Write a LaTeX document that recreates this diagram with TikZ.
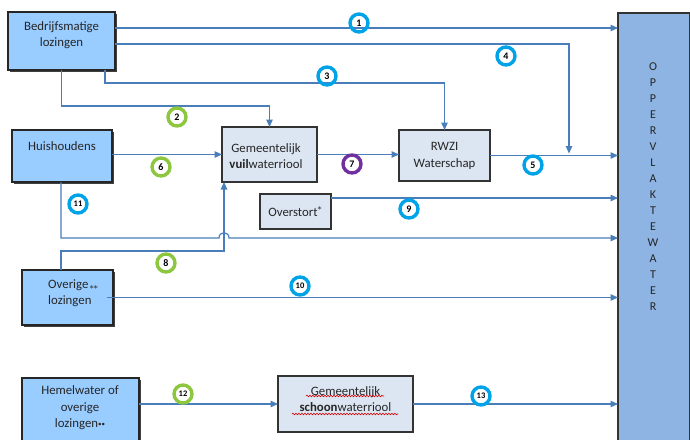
\documentclass[tikz,border=0pt]{standalone}
\usepackage{fontspec}
\setmainfont{Carlito}
\newfontfamily\starfont{DejaVu Sans}
\usetikzlibrary{arrows.meta,shadows,calc,decorations.pathmorphing}
\definecolor{flowc}{HTML}{4A7EBB}
\definecolor{srcfill}{HTML}{99CCFF}
\definecolor{procfill}{HTML}{DCE6F2}
\definecolor{oppfill}{HTML}{8DB4E2}
\definecolor{cblue}{HTML}{00A2E8}
\definecolor{cgreen}{HTML}{8DC63F}
\definecolor{cpurple}{HTML}{7030A0}
\begin{document}
\begin{tikzpicture}[x=1pt,y=-1pt,
  srcbox/.style={draw=black!85,line width=1.4pt,fill=srcfill,inner sep=0pt,outer sep=0pt,
    general shadow={fill=black!75,shadow xshift=1.6pt,shadow yshift=-1.6pt}},
  procbox/.style={draw=black!80,line width=1.2pt,fill=procfill,inner sep=0pt,outer sep=0pt,
    general shadow={fill=black!60,shadow xshift=1.2pt,shadow yshift=-1.2pt}},
  txt/.style={align=center,inner sep=0pt,font=\fontsize{12.8}{16.5}\selectfont,text=black!85},
  flow/.style={draw=flowc,line width=1.2pt,-{Triangle[length=7.5pt,width=6.5pt]}},
  numc/.style={circle,draw=#1,line width=3.4pt,minimum size=18pt,inner sep=0pt,
    font=\bfseries\fontsize{10}{10}\selectfont},
  numcs/.style={numc=#1,font=\bfseries\fontsize{8.5}{9}\selectfont},
  spell/.style={draw=red!85!black,line width=0.6pt,decorate,
    decoration={snake,amplitude=0.8pt,segment length=3pt}}]
\useasboundingbox (0,0) rectangle (690,439);

% boxes
\node[srcbox,minimum width=107pt,minimum height=58pt] (bed) at (61.5,41) {};
\node[txt] (bedt) at (61.5,35) {Bedrijfsmatige\\lozingen};
\node[srcbox,minimum width=100pt,minimum height=52pt] (hui) at (62,156) {};
\node[txt] (huit) at (62,146) {Huishoudens};
\node[procbox,minimum width=95pt,minimum height=55pt] (gem) at (269.5,154.5) {};
\node[txt] (gemt) at (266,156) {Gemeentelijk\\\textbf{vuil}waterriool};
\node[procbox,minimum width=71pt,minimum height=35pt] (ovs) at (295.5,211.5) {};
\node[txt] (ovst) at (295,212) {Overstort\raisebox{4pt}{\starfont\fontsize{8}{8}\selectfont *}};
\node[procbox,minimum width=91pt,minimum height=51pt] (rwzi) at (444.5,155.5) {};
\node[txt] (rwzit) at (444.5,156) {RWZI\\Waterschap};
\node[draw=black!80,line width=1.1pt,fill=oppfill,minimum width=72pt,minimum height=428pt,
  inner sep=0pt,outer sep=0pt] (opp) at (654,227) {};
\node[txt,font=\fontsize{12}{16}\selectfont] (oppt) at (653,187)
  {O\\P\\P\\E\\R\\V\\L\\A\\K\\T\\E\\W\\A\\T\\E\\R};
\node[srcbox,minimum width=91pt,minimum height=55pt] (ovl) at (67.5,297.5) {};
\node[txt,align=left] (ovlt) at (73,293) {Overige\raisebox{-3pt}{\starfont\fontsize{8}{8}\selectfont\,**}\\lozingen};
\node[srcbox,minimum width=117pt,minimum height=66pt] (hem) at (80.5,411) {};
\node[txt] (hemt) at (80,408) {Hemelwater of\\overige\\lozingen\raisebox{1pt}{\scriptsize\textbullet\textbullet}};
\node[procbox,minimum width=135pt,minimum height=56pt] (sch) at (345.5,404) {};
\node[txt] (scht) at (345.5,399) {Gemeentelijk\\\textbf{schoon}waterriool};
\draw[spell] (306,396) -- (384,396);
\draw[spell] (292,414) -- (398,414);

% flows
\coordinate (b1) at ([yshift=13pt]bed.east);
\draw[flow] (b1) -- (b1 -| opp.west);
\coordinate (b4) at ([yshift=-3pt]bed.east);
\coordinate (e4) at ([xshift=-49pt,yshift=2pt]opp.west |- rwzi.east);
\draw[flow] (b4) -| (e4);
\draw[flow] ([xshift=43.5pt]bed.south) -- ++(0,13) -| (rwzi.north);
\draw[flow] (bed.south) -- ++(0,36) -| (gem.north);
\draw[flow] (hui.east |- gem.west) -- (gem.west);
\draw[flow] (gem.east) -- (gem.east -| rwzi.west);
\draw[flow] (rwzi.east) -- (rwzi.east -| opp.west);
\coordinate (o9) at ([yshift=-4pt]ovs.north east);
\draw[flow] (o9) -- (o9 -| opp.west);
\coordinate (v8) at ([xshift=2pt]gem.south west);
\coordinate (h11) at ([xshift=-1pt,yshift=-56pt]hui.south);
\draw[flow] ([xshift=-1pt]hui.south) -- (h11) -- ($(h11 -| v8)+(-5,0)$)
  .. controls +(0,-7) and +(0,-7) .. ($(h11 -| v8)+(5,0)$) -- (h11 -| opp.west);
\draw[flow] ([xshift=-6.5pt]ovl.north) -- ++(0,-19) -| (v8);
\draw[flow] ([xshift=-6pt]ovl.east) -- (ovl.east -| opp.west);
\draw[flow] (hem.east |- sch.west) -- (sch.west);
\draw[flow] (sch.east) -- (sch.east -| opp.west);

% number labels
\node[numc=cblue] (n1) at (359,23) {1};
\node[numc=cgreen] (n2) at (177,117) {2};
\node[numc=cblue] (n3) at (327,76) {3};
\node[numc=cblue] (n4) at (506,56) {4};
\node[numc=cblue] (n5) at (533,165) {5};
\node[numc=cgreen] (n6) at (161,167) {6};
\node[numc=cpurple] (n7) at (352,164) {7};
\node[numc=cgreen] (n8) at (166,263) {8};
\node[numc=cblue] (n9) at (409,209) {9};
\node[numcs=cblue] (n10) at (300,286) {10};
\node[numcs=cblue] (n11) at (78,204) {11};
\node[numcs=cgreen] (n12) at (183,394) {12};
\node[numcs=cblue] (n13) at (481,396) {13};
\end{tikzpicture}
\end{document}
